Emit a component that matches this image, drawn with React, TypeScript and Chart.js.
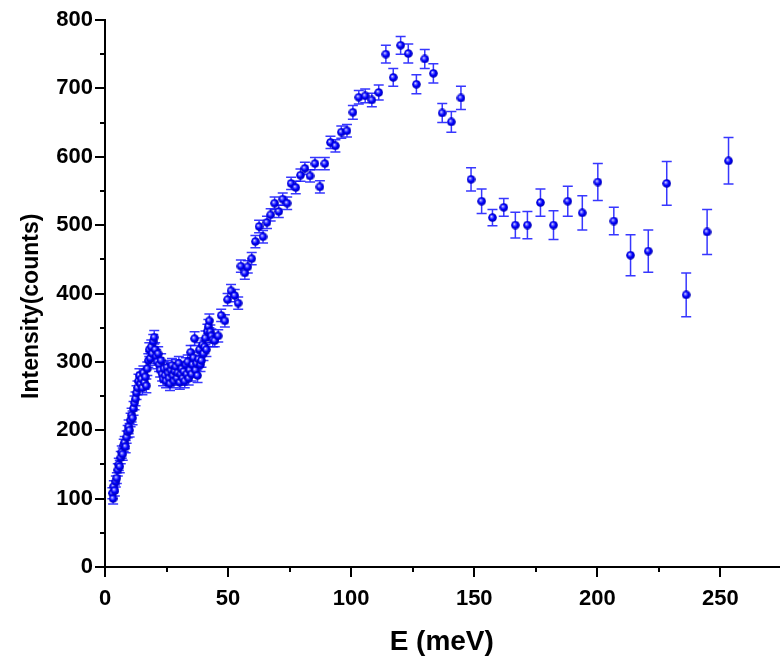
import React, { useEffect, useRef } from 'react';
import { Chart, registerables } from 'chart.js';

Chart.register(...registerables);

// Energy transfer (meV)
const energies: number[] = [
  3.0, 3.3, 3.6, 4.0, 4.4, 4.8, 5.2, 5.6, 6.0, 6.4, 6.8, 7.2, 7.6, 8.0, 8.4, 8.8, 9.2, 9.6, 10.0, 10.4,
  10.8, 11.2, 11.6, 12.0, 12.4, 12.8, 13.2, 13.6, 14.0, 14.4, 14.8, 15.2, 15.6, 16.0, 16.4, 16.8, 17.2, 17.6, 18.0, 18.4,
  18.8, 19.2, 19.6, 20.0, 20.4, 20.8, 21.2, 21.6, 22.0, 22.4, 22.8, 23.2, 23.6, 24.0, 24.4, 24.8, 25.2, 25.6, 26.0, 26.4,
  26.8, 27.2, 27.6, 28.0, 28.4, 28.8, 29.2, 29.6, 30.0, 30.4, 30.8, 31.2, 31.6, 32.0, 32.4, 32.8, 33.2, 33.6, 34.0, 34.4,
  34.8, 35.2, 35.6, 36.0, 36.4, 36.8, 37.2, 37.6, 38.0, 38.4, 38.8, 39.2, 39.6, 40.0, 40.4, 40.8, 41.2, 41.6, 42.0, 42.4,
  42.8, 43.2, 43.8, 44.6, 46.0, 47.2, 48.7, 49.8, 51.2, 52.7, 54.1, 55.2, 56.8, 58.0, 59.6, 61.1, 62.6, 64.2, 65.8, 67.3,
  68.9, 70.6, 72.2, 74.0, 75.6, 77.5, 79.4, 81.2, 83.3, 85.3, 87.3, 89.3, 91.6, 93.6, 96.0, 98.3, 100.7, 103.1, 105.7, 108.4,
  111.2, 114.1, 117.1, 120.1, 123.2, 126.5, 129.9, 133.4, 137.0, 140.7, 144.6, 148.7, 153.0, 157.4, 162.0, 166.7, 171.6, 176.9, 182.2, 188.0,
  193.9, 200.2, 206.7, 213.5, 220.7, 228.2, 236.1, 244.6, 253.3,
];

// Intensity (counts)
const intensities: number[] = [
  108, 100, 118, 112, 125, 130, 142, 150, 147, 160, 168, 165, 178, 182, 176, 190, 198, 205, 200, 215,
  222, 218, 232, 240, 246, 255, 262, 272, 280, 268, 275, 262, 284, 270, 278, 265, 290, 302, 318, 305,
  322, 312, 330, 336, 318, 308, 300, 312, 296, 288, 302, 282, 275, 290, 280, 272, 292, 284, 276, 268,
  288, 295, 280, 272, 286, 293, 276, 284, 298, 270, 282, 290, 276, 286, 272, 296, 282, 300, 276, 288,
  314, 282, 296, 306, 334, 288, 298, 280, 304, 318, 296, 302, 325, 312, 322, 335, 318, 345, 352, 360,
  344, 338, 332, 331, 338, 368, 360, 391, 404, 397, 386, 440, 430, 439, 451, 476, 498, 483, 504, 515,
  532, 520, 538, 532, 561, 555, 573, 583, 572, 590, 556, 590, 621, 616, 636, 638, 665, 687, 689, 683,
  694, 750, 716, 763, 751, 706, 743, 722, 664, 651, 686, 567, 535, 511, 526, 500, 500, 533, 500, 535,
  518, 563, 506, 456, 462, 561, 398, 490, 594,
];

// Error bars (± counts)
const errors: number[] = [
  8, 8, 8, 8, 8, 8, 9, 9, 9, 9, 9, 9, 9, 9, 9, 9, 9, 10, 10, 10,
  10, 10, 10, 10, 10, 10, 10, 10, 10, 10, 10, 10, 10, 10, 10, 10, 10, 10, 10, 10,
  10, 10, 10, 10, 10, 10, 10, 10, 10, 10, 10, 10, 10, 10, 10, 10, 10, 10, 10, 10,
  10, 10, 10, 10, 10, 10, 10, 10, 10, 10, 10, 10, 10, 10, 10, 10, 10, 10, 10, 10,
  10, 10, 10, 10, 10, 10, 10, 10, 10, 10, 10, 10, 10, 10, 10, 10, 10, 10, 10, 10,
  10, 10, 10, 9, 9, 9, 9, 9, 9, 9, 9, 9, 9, 9, 9, 9, 9, 9, 9, 9,
  9, 9, 9, 9, 9, 9, 9, 9, 9, 9, 9, 9, 9, 9, 9, 9, 10, 10, 10, 10,
  11, 13, 13, 13, 14, 14, 14, 14, 14, 15, 17, 17, 18, 12, 13, 19, 20, 20, 21, 22,
  25, 27, 20, 30, 31, 32, 32, 33, 34,
];

const xMajorTicks: number[] = [0, 50, 100, 150, 200, 250];
const xMinorTicks: number[] = [25, 75, 125, 175, 225];
const yMinorTicks: number[] = [50, 150, 250, 350, 450, 550, 650, 750];

const X_MAX = 273.6;
const FONT = '"Liberation Sans", Arial, Helvetica, sans-serif';

function makeSphere(d: number): HTMLCanvasElement {
  const c = document.createElement('canvas');
  c.width = d;
  c.height = d;
  const g = c.getContext('2d')!;
  const r = d / 2;
  const grad = g.createRadialGradient(r * 0.72, r * 0.72, 0, r, r, r);
  grad.addColorStop(0, '#ffffff');
  grad.addColorStop(0.22, '#8080ff');
  grad.addColorStop(0.55, '#0000ff');
  grad.addColorStop(1, '#0000b0');
  g.fillStyle = grad;
  g.beginPath();
  g.arc(r, r, r - 0.2, 0, Math.PI * 2);
  g.fill();
  return c;
}

const errorBarPlugin = {
  id: 'errorBars',
  beforeDatasetsDraw(chart: any) {
    const xs = chart.scales.x;
    const ys = chart.scales.y;
    const ctx = chart.ctx;
    ctx.save();
    ctx.strokeStyle = 'rgba(20,20,255,0.85)';
    ctx.lineWidth = 1.5;
    const cap = 5;
    for (let i = 0; i < energies.length; i++) {
      const px = xs.getPixelForValue(energies[i]);
      const top = ys.getPixelForValue(intensities[i] + errors[i]);
      const bot = ys.getPixelForValue(intensities[i] - errors[i]);
      ctx.beginPath();
      ctx.moveTo(px, top);
      ctx.lineTo(px, bot);
      ctx.moveTo(px - cap, top);
      ctx.lineTo(px + cap, top);
      ctx.moveTo(px - cap, bot);
      ctx.lineTo(px + cap, bot);
      ctx.stroke();
    }
    ctx.restore();
  },
};

const minorTickPlugin = {
  id: 'minorTicks',
  afterDraw(chart: any) {
    const xs = chart.scales.x;
    const ys = chart.scales.y;
    const ctx = chart.ctx;
    const area = chart.chartArea;
    ctx.save();
    ctx.strokeStyle = '#000';
    ctx.lineWidth = 2;
    ctx.beginPath();
    for (const v of xMinorTicks) {
      const px = Math.round(xs.getPixelForValue(v));
      ctx.moveTo(px, area.bottom);
      ctx.lineTo(px, area.bottom + 5);
    }
    for (const v of yMinorTicks) {
      const py = Math.round(ys.getPixelForValue(v));
      ctx.moveTo(area.left, py);
      ctx.lineTo(area.left - 5, py);
    }
    ctx.stroke();
    ctx.restore();
  },
};

export default function App() {
  const canvasRef = useRef<HTMLCanvasElement | null>(null);

  useEffect(() => {
    if (!canvasRef.current) return;
    const sphere = makeSphere(9);
    const points = energies.map((e, i) => ({ x: e, y: intensities[i] }));
    const chart = new Chart(canvasRef.current, {
      type: 'scatter',
      data: {
        datasets: [
          {
            label: 'Intensity',
            data: points,
            pointStyle: sphere as any,
            pointRadius: 4.5,
            backgroundColor: '#0000ff',
            borderColor: '#0000ff',
          },
        ],
      },
      options: {
        responsive: false,
        animation: false,
        devicePixelRatio: 1,
        layout: { padding: { top: 20, right: 0, left: 0, bottom: 0 } },
        plugins: {
          legend: { display: false },
          tooltip: { enabled: false },
        },
        scales: {
          x: {
            type: 'linear',
            min: 0,
            max: X_MAX,
            afterFit: (s: any) => {
              s.height = 97;
            },
            afterBuildTicks: (s: any) => {
              s.ticks = xMajorTicks.map((v) => ({ value: v }));
            },
            ticks: {
              includeBounds: false,
              color: '#000',
              padding: 9,
              maxRotation: 0,
              font: { family: FONT, size: 22, weight: 'bold' },
              callback: (v: any) => String(v),
            },
            grid: {
              display: true,
              drawOnChartArea: false,
              drawTicks: true,
              tickLength: 10,
              color: '#000',
              lineWidth: 2,
            },
            border: { display: true, color: '#000', width: 2 },
            title: {
              display: true,
              text: 'E (meV)',
              color: '#000',
              font: { family: FONT, size: 28, weight: 'bold', lineHeight: 1.2 },
              padding: { top: 0, bottom: 5 },
            },
          },
          y: {
            type: 'linear',
            min: 0,
            max: 800,
            afterFit: (s: any) => {
              s.width = 105;
            },
            ticks: {
              stepSize: 100,
              color: '#000',
              padding: 2,
              font: { family: FONT, size: 22, weight: 'bold' },
            },
            grid: {
              display: true,
              drawOnChartArea: false,
              drawTicks: true,
              tickLength: 10,
              color: '#000',
              lineWidth: 2,
            },
            border: { display: true, color: '#000', width: 2 },
            title: {
              display: true,
              text: 'Intensity(counts)    ',
              color: '#000',
              font: { family: FONT, size: 23, weight: 'bold', lineHeight: 1.2 },
              padding: { top: 18, bottom: 0 },
            },
          },
        },
      },
      plugins: [errorBarPlugin, minorTickPlugin],
    });
    return () => chart.destroy();
  }, []);

  return (
    <div style={{ position: 'absolute', left: 0, top: 0, width: 784, height: 664, background: '#fff' }}>
      <canvas ref={canvasRef} width={784} height={664} style={{ display: 'block' }} />
    </div>
  );
}
